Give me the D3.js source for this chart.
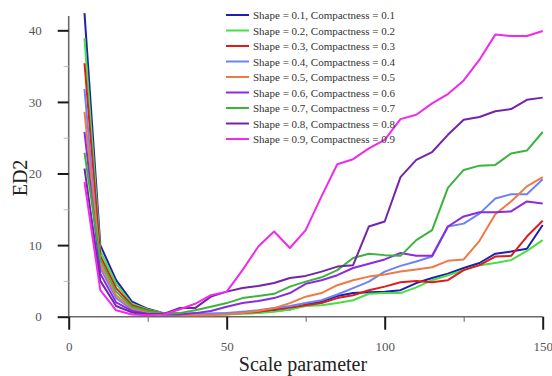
<!DOCTYPE html>
<html><head><meta charset="utf-8">
<script src="https://cdn.jsdelivr.net/npm/d3@7"></script>
<style>body{margin:0;background:#fff}svg{display:block}</style>
</head><body>
<script>
const scaleParams = [5,10,15,20,25,30,35,40,45,50,55,60,65,70,75,80,85,90,95,100,105,110,115,120,125,130,135,140,145,150];
const seriesNames = ["Shape = 0.1, Compactness = 0.1","Shape = 0.2, Compactness = 0.2","Shape = 0.3, Compactness = 0.3","Shape = 0.4, Compactness = 0.4","Shape = 0.5, Compactness = 0.5","Shape = 0.6, Compactness = 0.6","Shape = 0.7, Compactness = 0.7","Shape = 0.8, Compactness = 0.8","Shape = 0.9, Compactness = 0.9"];
const seriesColors = ["#1f1fb0","#44e044","#e01b1b","#6f83f0","#f07a45","#8a2be2","#3cb43c","#7424a8","#ee2aee"];
const s01 = [42.4,10.0,5.1,2.1,1.1,0.5,0.4,0.4,0.4,0.4,0.5,0.6,0.8,1.0,1.7,2.1,2.9,3.3,3.4,3.5,3.7,4.7,5.4,6.0,6.8,7.5,8.8,9.1,9.5,12.8];
const s02 = [38.9,9.2,4.6,1.8,1.0,0.5,0.3,0.3,0.3,0.3,0.4,0.5,0.7,1.0,1.5,1.6,1.9,2.3,3.2,3.3,3.3,4.1,5.1,5.8,6.5,7.2,7.5,7.9,9.2,10.7];
const s03 = [35.4,8.5,4.0,1.6,0.9,0.4,0.3,0.3,0.3,0.4,0.5,0.7,1.0,1.3,1.6,1.9,2.6,3.0,3.7,4.2,4.8,5.0,4.8,5.1,6.5,7.2,8.4,8.5,11.2,13.4];
const s04 = [31.8,6.8,2.6,1.0,0.5,0.3,0.3,0.3,0.4,0.5,0.7,0.9,1.2,1.5,1.9,2.3,3.1,4.0,4.9,6.3,7.1,7.7,8.4,12.6,13.0,14.4,16.5,17.1,17.1,19.2];
const s05 = [28.6,7.4,3.0,1.2,0.6,0.3,0.2,0.2,0.2,0.3,0.5,0.8,1.2,1.9,2.8,3.3,4.4,5.1,5.6,5.9,6.3,6.6,6.9,7.8,8.0,10.6,14.3,16.1,18.2,19.5];
const s06 = [25.8,6.0,2.0,0.8,0.4,0.3,0.3,0.5,0.8,1.4,1.9,2.2,2.6,3.3,4.6,5.1,5.8,6.8,7.4,8.0,8.9,8.5,8.5,12.6,14.0,14.6,14.6,14.7,16.1,15.8];
const s07 = [22.9,8.0,3.5,1.4,0.8,0.4,0.5,0.9,1.4,1.9,2.6,2.9,3.2,4.2,4.9,5.5,6.5,8.2,8.8,8.6,8.5,10.7,12.1,18.0,20.5,21.1,21.2,22.8,23.2,25.8];
const s08 = [20.7,5.0,1.5,0.6,0.3,0.4,1.2,1.2,2.8,3.5,4.0,4.3,4.7,5.4,5.7,6.3,7.0,7.2,12.6,13.3,19.5,21.9,23.0,25.4,27.5,27.9,28.7,29.0,30.3,30.6];
const s09 = [18.8,3.7,0.9,0.3,0.2,0.3,1.0,1.8,3.0,3.5,6.5,9.8,11.9,9.6,12.1,16.8,21.3,22.0,23.5,24.7,27.6,28.2,29.8,31.1,33.0,35.9,39.4,39.2,39.2,39.9];
const xMajorTicks = [0,50,100,150];
const xMinorTicks = [25,75,125];
const yMajorTicks = [0,10,20,30,40];
const yMinorTicks = [5,15,25,35];

const allSeries = [s01,s02,s03,s04,s05,s06,s07,s08,s09];
const W = 552, H = 376;
const svg = d3.select("body").append("svg").attr("width", W).attr("height", H);
const x = d3.scaleLinear().domain([0,150]).range([68.7,542.7]);
const y = d3.scaleLinear().domain([0,42]).range([316.7,16]);
const serif = "'Liberation Serif', 'Times New Roman', serif";

// axis lines
svg.append("line").attr("x1", x(0)).attr("x2", x(0)).attr("y1", y(42)).attr("y2", y(0))
  .attr("stroke", "#6a6a6a").attr("stroke-width", 1.6);
svg.append("line").attr("x1", x(0)).attr("x2", x(150)).attr("y1", y(0)).attr("y2", y(0))
  .attr("stroke", "#6a6a6a").attr("stroke-width", 1.6);

// x axis
const xAxis = svg.append("g").attr("transform", `translate(0,${y(0)})`)
  .call(d3.axisBottom(x).tickValues(xMajorTicks).tickSize(13).tickPadding(12).tickFormat(d3.format("d")));
xAxis.select(".domain").remove();
xAxis.selectAll(".tick line").attr("stroke", "#1a1a1a").attr("stroke-width", 2);
xAxis.selectAll(".tick text").attr("font-family", serif).attr("font-size", 13).attr("fill", "#555");
const xMinor = svg.append("g").attr("transform", `translate(0,${y(0)})`)
  .call(d3.axisBottom(x).tickValues(xMinorTicks).tickSize(5).tickFormat(""));
xMinor.select(".domain").remove();
xMinor.selectAll(".tick line").attr("stroke", "#777").attr("stroke-width", 1.2);

// y axis
const yAxis = svg.append("g").attr("transform", `translate(${x(0)},0)`)
  .call(d3.axisLeft(y).tickValues(yMajorTicks).tickSize(11).tickPadding(16).tickFormat(d3.format("d")));
yAxis.select(".domain").remove();
yAxis.selectAll(".tick line").attr("stroke", "#1a1a1a").attr("stroke-width", 2);
yAxis.selectAll(".tick text").attr("font-family", serif).attr("font-size", 13).attr("fill", "#555");
const yMinor = svg.append("g").attr("transform", `translate(${x(0)},0)`)
  .call(d3.axisLeft(y).tickValues(yMinorTicks).tickSize(5).tickFormat(""));
yMinor.select(".domain").remove();
yMinor.selectAll(".tick line").attr("stroke", "#bbb").attr("stroke-width", 1);

// axis titles
svg.append("text").attr("x", 303).attr("y", 371).attr("text-anchor", "middle")
  .attr("font-family", serif).attr("font-size", 20).attr("fill", "#222").text("Scale parameter");
svg.append("text").attr("transform", "translate(27,178) rotate(-90)").attr("text-anchor", "middle")
  .attr("font-family", serif).attr("font-size", 20).attr("fill", "#222").text("ED2");

// lines
const line = d3.line().x((d,i) => x(scaleParams[i])).y(d => y(d));
allSeries.forEach((s, k) => {
  svg.append("path").datum(s).attr("d", line).attr("fill", "none")
    .attr("stroke", seriesColors[k]).attr("stroke-width", 2).attr("stroke-linejoin", "round");
});

// legend
const lg = svg.append("g");
seriesNames.forEach((n, k) => {
  const yy = 15 + k * 15.5;
  lg.append("line").attr("x1", 226).attr("x2", 249).attr("y1", yy).attr("y2", yy)
    .attr("stroke", seriesColors[k]).attr("stroke-width", 2);
  lg.append("text").attr("x", 253).attr("y", yy + 4).attr("font-family", serif)
    .attr("font-size", 11).attr("fill", "#333").text(n);
});
</script>
</body></html>
